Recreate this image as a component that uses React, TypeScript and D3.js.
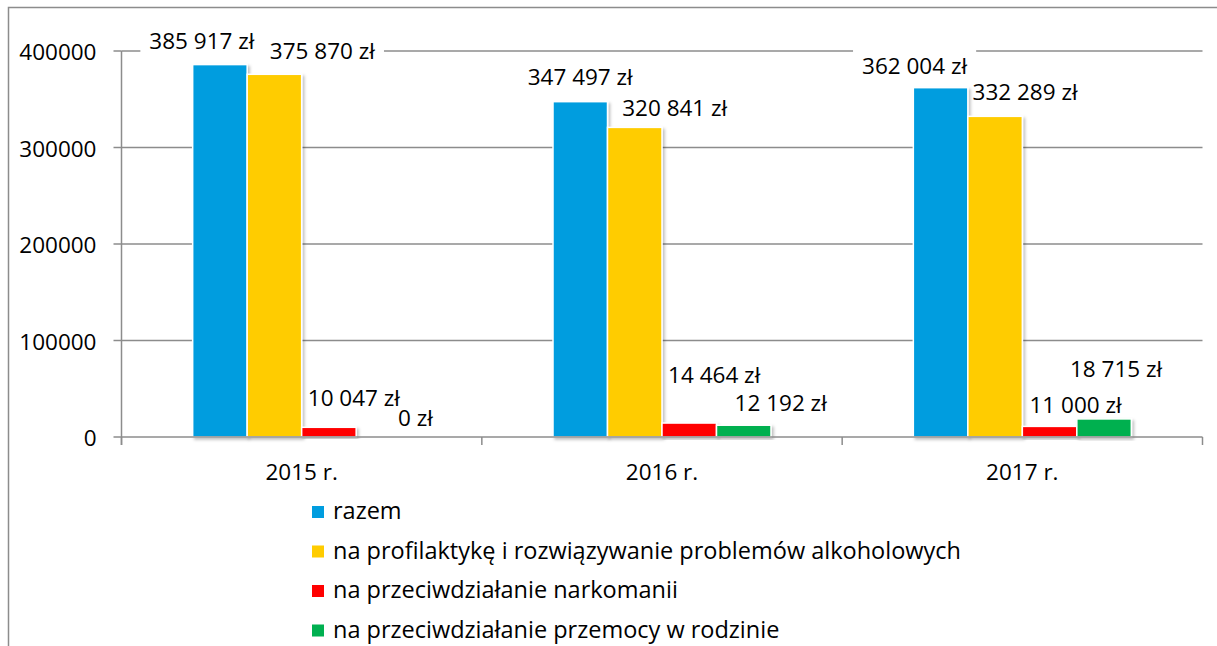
import { useRef, useEffect } from "react";
import * as d3 from "d3";

const categories = ["2015 r.", "2016 r.", "2017 r."];
const seriesNames = [
  "razem",
  "na profilaktykę i rozwiązywanie problemów alkoholowych",
  "na przeciwdziałanie narkomanii",
  "na przeciwdziałanie przemocy w rodzinie",
];
const razem = [385917, 347497, 362004];
const alkohol = [375870, 320841, 332289];
const narkomania = [10047, 14464, 11000];
const przemoc = [0, 12192, 18715];
const yTicks = [0, 100000, 200000, 300000, 400000];

const colors = ["#009DDF", "#FFCC00", "#FF0000", "#00B050"];

// manual label placement (offset from bar center / bar top), per series per year
const labelDx = [
  [-18, 0, -26],
  [48, 40, 30],
  [25, 25, 26],
  [32, 37, 12],
];
const labelDy = [
  [-16, -17, -14],
  [-15, -11, -16],
  [-21, -40, -13],
  [-11, -14, -42],
];

const fmt = (v: number) => d3.format(",")(v).replace(/,/g, " ") + " zł";

const W = 1217;
const H = 646;
const FONT = "'Open Sans', Lato, sans-serif";
const FS = 22.5;
const LEGEND_FS = 23.5;

const App = () => {
  const svgRef = useRef<SVGSVGElement>(null);

  useEffect(() => {
    const svg = d3.select(svgRef.current);
    svg.selectAll("*").remove();

    const values = [razem, alkohol, narkomania, przemoc];
    const left = 121.5;
    const right = 1202.5;

    const x0 = d3.scaleBand().domain(categories).range([left, right]).padding(0);
    const x1 = d3
      .scaleBand<number>()
      .domain(d3.range(seriesNames.length))
      .range([0, x0.bandwidth()])
      .paddingInner(0)
      .paddingOuter(1.306);
    const y = d3.scaleLinear().domain([0, 400000]).range([437, 51]);

    const defs = svg.append("defs");
    const f = defs
      .append("filter")
      .attr("id", "shadow")
      .attr("x", "-20%")
      .attr("y", "-20%")
      .attr("width", "140%")
      .attr("height", "140%");
    f.append("feDropShadow")
      .attr("dx", 2)
      .attr("dy", 2)
      .attr("stdDeviation", 1.5)
      .attr("flood-color", "#000")
      .attr("flood-opacity", 0.25);

    // frame
    svg
      .append("path")
      .attr("d", `M8.5,${H} V7.5 H${W}`)
      .attr("fill", "none")
      .attr("stroke", "#8c8c8c")
      .attr("stroke-width", 1.5);

    // gridlines
    svg
      .append("g")
      .selectAll("line")
      .data(yTicks.slice(1))
      .join("line")
      .attr("x1", left)
      .attr("x2", right)
      .attr("y1", (d) => y(d))
      .attr("y2", (d) => y(d))
      .attr("stroke", "#8c8c8c")
      .attr("stroke-width", 1.5);

    const labels: { x: number; y: number; text: string }[] = [];
    values.forEach((vals, s) => {
      vals.forEach((v, c) => {
        const cx = x0(categories[c])! + x1(s)! + x1.bandwidth() / 2;
        labels.push({
          x: cx + labelDx[s][c],
          y: y(v) + labelDy[s][c],
          text: fmt(v),
        });
      });
    });

    // label backgrounds (hide gridlines behind labels)
    const tmp = svg.append("g").attr("font-family", FONT).attr("font-size", FS);
    const bgs: { x: number; y: number; w: number }[] = [];
    labels.forEach((l) => {
      const t = tmp.append("text").text(l.text);
      const w = (t.node() as SVGTextElement).getComputedTextLength();
      t.remove();
      bgs.push({ x: l.x - w / 2 - 9, y: l.y - 24, w: w + 18 });
    });
    tmp.remove();
    svg
      .append("g")
      .selectAll("rect")
      .data(bgs)
      .join("rect")
      .attr("x", (d) => d.x)
      .attr("y", (d) => d.y)
      .attr("width", (d) => d.w)
      .attr("height", 32)
      .attr("fill", "#fff");

    // bars
    values.forEach((vals, s) => {
      svg
        .append("g")
        .selectAll("rect")
        .data(vals)
        .join("rect")
        .attr("x", (_, c) => x0(categories[c])! + x1(s)!)
        .attr("y", (d) => y(d))
        .attr("width", x1.bandwidth())
        .attr("height", (d) => y(0) - y(d))
        .attr("fill", colors[s])
        .attr("stroke", (d) => (d > 0 ? "#fff" : "none"))
        .attr("stroke-width", 1.5)
        .attr("filter", "url(#shadow)");
    });

    // y axis
    const yAxis = svg.append("g").attr("transform", `translate(${left},0)`);
    yAxis
      .append("line")
      .attr("y1", y(400000))
      .attr("y2", y(0) + 8)
      .attr("stroke", "#8c8c8c")
      .attr("stroke-width", 1.5);
    yAxis
      .selectAll("line.tick")
      .data(yTicks)
      .join("line")
      .attr("class", "tick")
      .attr("x1", -8)
      .attr("x2", 0)
      .attr("y1", (d) => y(d))
      .attr("y2", (d) => y(d))
      .attr("stroke", "#8c8c8c")
      .attr("stroke-width", 1.5);
    yAxis
      .selectAll("text")
      .data(yTicks)
      .join("text")
      .attr("x", -25)
      .attr("y", (d) => y(d) + 9)
      .attr("text-anchor", "end")
      .attr("font-family", FONT)
      .attr("font-size", FS)
      .attr("fill", "#000")
      .text((d) => String(d));

    // x axis
    const xAxis = svg.append("g");
    xAxis
      .append("line")
      .attr("x1", left)
      .attr("x2", right)
      .attr("y1", y(0))
      .attr("y2", y(0))
      .attr("stroke", "#8c8c8c")
      .attr("stroke-width", 1.5);
    xAxis
      .selectAll("line.tick")
      .data(categories.concat([""]))
      .join("line")
      .attr("class", "tick")
      .attr("x1", (d, i) => left + x0.step() * i)
      .attr("x2", (d, i) => left + x0.step() * i)
      .attr("y1", y(0))
      .attr("y2", y(0) + 8)
      .attr("stroke", "#8c8c8c")
      .attr("stroke-width", 1.5);
    xAxis
      .selectAll("text")
      .data(categories)
      .join("text")
      .attr("x", (d) => x0(d)! + x0.bandwidth() / 2)
      .attr("y", 480)
      .attr("text-anchor", "middle")
      .attr("font-family", FONT)
      .attr("font-size", FS)
      .text((d) => d);

    // data labels
    svg
      .append("g")
      .selectAll("text")
      .data(labels)
      .join("text")
      .attr("x", (d) => d.x)
      .attr("y", (d) => d.y)
      .attr("text-anchor", "middle")
      .attr("font-family", FONT)
      .attr("font-size", FS)
      .attr("fill", "#000")
      .text((d) => d.text);

    // legend
    const legend = svg.append("g").attr("transform", "translate(312,0)");
    seriesNames.forEach((name, i) => {
      const cy = 512 + i * 39.5;
      legend
        .append("rect")
        .attr("x", 0)
        .attr("y", cy - 6)
        .attr("width", 12)
        .attr("height", 12)
        .attr("fill", colors[i]);
      legend
        .append("text")
        .attr("x", 21)
        .attr("y", cy + 7)
        .attr("font-family", FONT)
        .attr("font-size", LEGEND_FS)
        .text(name);
    });
  }, []);

  return (
    <div style={{ position: "absolute", left: 0, top: 0 }}>
      <svg ref={svgRef} width={W} height={H} style={{ display: "block", background: "#fff" }} />
    </div>
  );
};

export default App;
